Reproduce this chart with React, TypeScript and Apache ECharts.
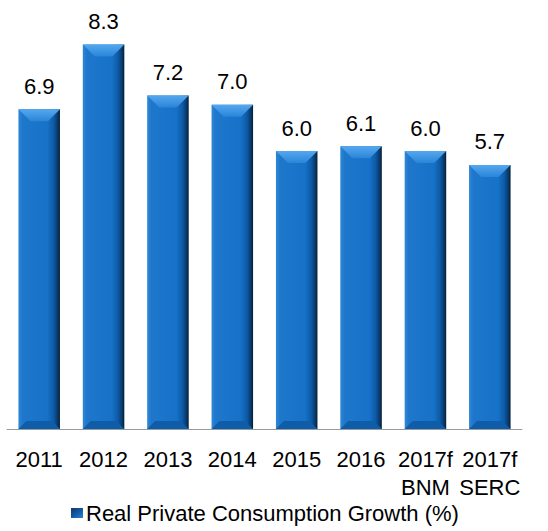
import React, { useEffect, useRef } from "react";
import * as echarts from "echarts";

const categories = ["2011", "2012", "2013", "2014", "2015", "2016", "2017f\nBNM", "2017f\nSERC"];
const growth = [6.9, 8.3, 7.2, 7.0, 6.0, 6.1, 6.0, 5.7];
const seriesName = "Real Private Consumption Growth (%)";

export default function App() {
  const ref = useRef<HTMLDivElement>(null);
  useEffect(() => {
    document.body.style.margin = "0";
    const chart = echarts.init(ref.current!, null, { renderer: "svg" });
    const font = "Liberation Sans, Arial, sans-serif";
    chart.setOption({
      animation: false,
      backgroundColor: "#ffffff",
      grid: { left: 7, right: 26, top: 12, bottom: 102, containLabel: false },
      legend: {
        data: [
          {
            name: seriesName,
            itemStyle: {
              color: new echarts.graphic.LinearGradient(0, 0, 1, 1, [
                { offset: 0, color: "#0b3a6c" },
                { offset: 0.5, color: "#14589e" },
                { offset: 1, color: "#2a86d8" },
              ]),
            },
          },
        ],
        left: 66,
        top: 497,
        icon: "rect",
        itemWidth: 12,
        itemHeight: 10,
        itemGap: 5,
        textStyle: { fontFamily: font, fontSize: 22, color: "#000", padding: [0, 0, 0, -2] },
      },
      xAxis: {
        type: "category",
        data: categories,
        axisTick: { show: false },
        axisLine: { lineStyle: { color: "#9a9a9a", width: 1 } },
        axisLabel: {
          interval: 0,
          margin: 16,
          fontFamily: font,
          fontSize: 22,
          lineHeight: 28,
          color: "#000",
          align: "center",
        },
      },
      yAxis: {
        type: "value",
        min: 0,
        max: 9,
        show: false,
        splitLine: { show: false },
      },
      series: [
        {
          type: "custom",
          name: seriesName,
          itemStyle: { color: "#1766b8" },
          encode: { x: 0, y: 1 },
          data: growth.map((v, i) => [i, v]),
          renderItem: (params: any, api: any) => {
            const i = api.value(0);
            const v = api.value(1);
            const top = api.coord([i, v]);
            const base = api.coord([i, 0]);
            const w = api.size([1, 0])[0] * 0.645;
            const x0 = top[0] - w / 2;
            const x1 = top[0] + w / 2;
            const y0 = top[1];
            const y1 = base[1];
            const b = 12;
            const bb = 8;
            return {
              type: "group",
              children: [
                {
                  type: "rect",
                  shape: { x: x0, y: y0, width: w, height: y1 - y0 },
                  style: {
                    fill: new echarts.graphic.LinearGradient(0, 0, 1, 0, [
                      { offset: 0, color: "#2f87d6" },
                      { offset: 0.1, color: "#1e77cb" },
                      { offset: 0.7, color: "#1672c8" },
                      { offset: 0.85, color: "#0e5aa6" },
                      { offset: 0.95, color: "#083865" },
                      { offset: 1, color: "#041c36" },
                    ]),
                  },
                },
                {
                  type: "polygon",
                  shape: {
                    points: [
                      [x0, y0],
                      [x1, y0],
                      [x1 - b, y0 + b],
                      [x0 + b, y0 + b],
                    ],
                  },
                  style: {
                    fill: new echarts.graphic.LinearGradient(0, 0, 0, 1, [
                      { offset: 0, color: "#55a8ef" },
                      { offset: 1, color: "#2a85d8" },
                    ]),
                  },
                },
                {
                  type: "polygon",
                  shape: {
                    points: [
                      [x0, y1],
                      [x1, y1],
                      [x1 - bb, y1 - bb],
                      [x0 + bb, y1 - bb],
                    ],
                  },
                  style: { fill: "#0f5ca8" },
                },
                {
                  type: "text",
                  style: {
                    text: v.toFixed(1),
                    x: top[0],
                    y: y0 - 23,
                    align: "center",
                    verticalAlign: "middle",
                    font: "22px Liberation Sans, Arial, sans-serif",
                    fill: "#000",
                  },
                },
              ],
            };
          },
        },
      ],
    });
    return () => chart.dispose();
  }, []);
  return <div ref={ref} style={{ width: 548, height: 531 }} />;
}
